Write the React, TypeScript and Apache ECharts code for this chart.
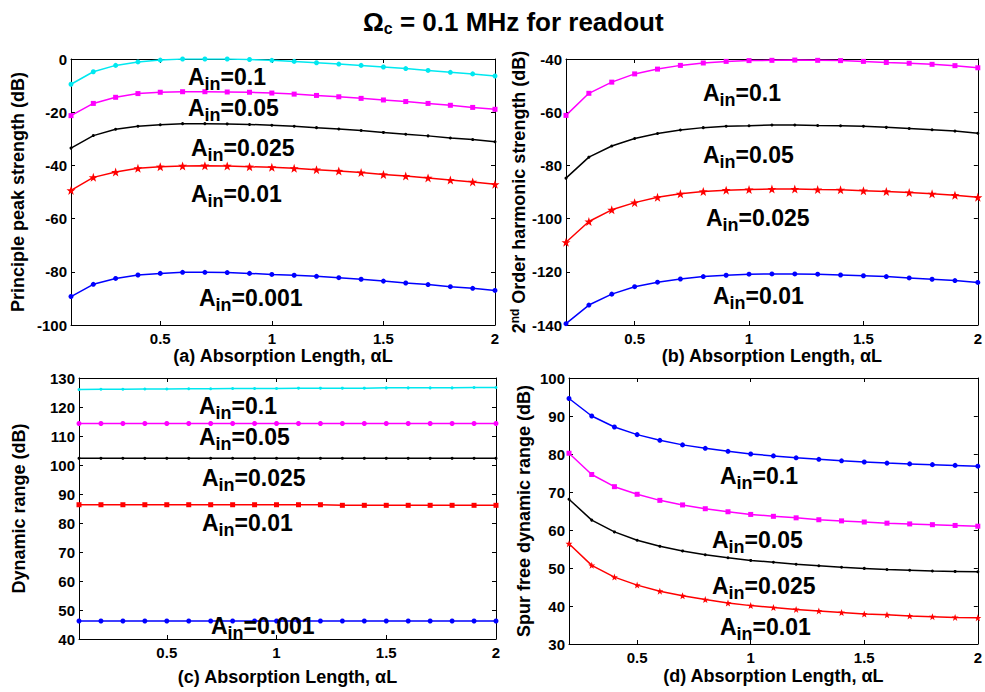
import React, { useEffect, useRef } from "react";
import * as echarts from "echarts";

// Absorption length samples
const xA = [0.1, 0.2, 0.3, 0.4, 0.5, 0.6, 0.7, 0.8, 0.9, 1.0, 1.1, 1.2, 1.3, 1.4, 1.5, 1.6, 1.7, 1.8, 1.9, 2.0];
const xB = [0.2, 0.3, 0.4, 0.5, 0.6, 0.7, 0.8, 0.9, 1.0, 1.1, 1.2, 1.3, 1.4, 1.5, 1.6, 1.7, 1.8, 1.9, 2.0];
const xTicks = [0.5, 1, 1.5, 2];

// (a) Principle peak strength (dB)
const peak01 = [-9.5, -4.8, -2.4, -1.1, -0.4, 0, 0, 0, -0.2, -0.5, -0.9, -1.4, -1.9, -2.4, -3.0, -3.6, -4.3, -5.0, -5.6, -6.4];
const peak005 = [-21.3, -16.7, -14.4, -13.0, -12.5, -12.3, -12.3, -12.4, -12.5, -12.8, -13.2, -13.7, -14.2, -14.8, -15.4, -16.0, -16.7, -17.4, -18.2, -18.9];
const peak0025 = [-33.5, -28.8, -26.4, -25.3, -24.7, -24.3, -24.3, -24.4, -24.6, -24.9, -25.3, -25.8, -26.3, -26.9, -27.6, -28.3, -28.9, -29.7, -30.3, -31.1];
const peak001 = [-49.4, -44.5, -42.5, -41.1, -40.5, -40.2, -40.1, -40.2, -40.5, -40.7, -41.1, -41.6, -42.1, -42.7, -43.4, -44.0, -44.7, -45.5, -46.2, -47.1];
const peak0001 = [-89.3, -84.7, -82.5, -81.2, -80.6, -80.2, -80.2, -80.3, -80.6, -81.0, -81.3, -81.7, -82.2, -82.8, -83.5, -84.2, -84.8, -85.6, -86.2, -87.0];

// (b) 2nd order harmonic strength (dB)
const harm01 = [-61.2, -52.9, -48.7, -45.6, -43.8, -42.4, -41.5, -40.9, -40.6, -40.5, -40.4, -40.5, -40.6, -40.9, -41.3, -41.6, -42.0, -42.5, -43.3];
const harm005 = [-84.8, -76.9, -72.7, -69.9, -68.0, -66.7, -65.8, -65.3, -65.1, -64.8, -64.8, -65.0, -65.1, -65.3, -65.7, -66.1, -66.6, -67.1, -67.9];
const harm0025 = [-108.9, -101.1, -96.7, -94.0, -92.0, -90.7, -89.8, -89.3, -89.1, -88.9, -88.9, -89.1, -89.2, -89.5, -89.8, -90.2, -90.7, -91.2, -92.0];
const harm001 = [-139.5, -132.5, -128.4, -125.6, -123.9, -122.7, -121.8, -121.3, -120.9, -120.8, -120.8, -120.9, -121.2, -121.5, -121.8, -122.3, -122.8, -123.3, -124.0];

// (c) Dynamic range (dB)
const dr01 = [126.0, 126.1, 126.1, 126.2, 126.2, 126.3, 126.3, 126.4, 126.4, 126.4, 126.5, 126.5, 126.5, 126.5, 126.6, 126.6, 126.6, 126.6, 126.7, 126.7];
const dr005 = [114.3, 114.3, 114.3, 114.3, 114.3, 114.3, 114.3, 114.3, 114.3, 114.3, 114.3, 114.3, 114.3, 114.3, 114.3, 114.3, 114.3, 114.3, 114.3, 114.3];
const dr0025 = [102.3, 102.3, 102.3, 102.3, 102.3, 102.3, 102.3, 102.3, 102.3, 102.3, 102.3, 102.3, 102.3, 102.3, 102.3, 102.3, 102.3, 102.3, 102.3, 102.3];
const dr001 = [86.3, 86.3, 86.3, 86.3, 86.3, 86.3, 86.3, 86.3, 86.3, 86.3, 86.3, 86.3, 86.1, 86.1, 86.1, 86.1, 86.1, 86.1, 86.1, 86.1];
const dr0001 = [46.2, 46.2, 46.2, 46.2, 46.2, 46.2, 46.2, 46.2, 46.2, 46.2, 46.2, 46.2, 46.2, 46.2, 46.2, 46.2, 46.2, 46.2, 46.2, 46.2];

// (d) Spur free dynamic range (dB)
const sfdr01 = [94.6, 90.0, 87.1, 85.1, 83.6, 82.4, 81.5, 80.7, 80.0, 79.5, 79.0, 78.6, 78.2, 77.9, 77.6, 77.4, 77.2, 77.0, 76.8];
const sfdr005 = [80.2, 74.6, 71.4, 69.4, 67.8, 66.6, 65.6, 64.8, 64.1, 63.6, 63.2, 62.7, 62.4, 62.1, 61.8, 61.6, 61.4, 61.2, 61.0];
const sfdr0025 = [68.1, 62.6, 59.5, 57.3, 55.7, 54.5, 53.5, 52.7, 52.0, 51.5, 51.0, 50.6, 50.2, 49.9, 49.6, 49.4, 49.2, 49.1, 49.0];
const sfdr001 = [56.4, 50.7, 47.6, 45.5, 43.9, 42.7, 41.7, 40.8, 40.1, 39.6, 39.1, 38.7, 38.3, 37.9, 37.7, 37.4, 37.2, 37.0, 36.9];

const CYAN = "#00e8f0";
const MAGENTA = "#ff00ff";
const RED = "#ff0000";
const BLUE = "#0000ff";
const BLACK = "#000000";
const STAR =
  "path://M0,-10 L2.35,-3.24 9.51,-3.09 3.8,1.24 5.88,8.09 0,4 -5.88,8.09 -3.8,1.24 -9.51,-3.09 -2.35,-3.24Z";

const FONT = "Arial, 'Liberation Sans', Helvetica, sans-serif";

const grids = [
  { left: 71, top: 59, width: 424, height: 266 },
  { left: 566, top: 59, width: 416, height: 266 },
  { left: 79, top: 378, width: 417, height: 261 },
  { left: 569, top: 378, width: 409, height: 266 },
];

const xMins = [0.1, 0.2, 0.1, 0.2];
const yRanges = [
  { min: -100, max: 0, interval: 20 },
  { min: -140, max: -40, interval: 20 },
  { min: 40, max: 130, interval: 10 },
  { min: 30, max: 100, interval: 10 },
];
const xNames = [
  "(a) Absorption Length, αL",
  "(b) Absorption Length, αL",
  "(c) Absorption Length, αL",
  "(d) Absorption Length, αL",
];
const xNameGaps = [20, 20, 29, 23];
const yNames = [
  "Principle peak strength (dB)",
  "2{sup|nd} Order harmonic strength (dB)",
  "Dynamic range (dB)",
  "Spur free dynamic range (dB)",
];
const yNameGaps = [44, 33, 51, 36];

// A_in annotations: [value text, left px, middle px]
const ainLabels: [string, number, number][] = [
  ["0.1", 188, 77],
  ["0.05", 188, 108],
  ["0.025", 191, 148],
  ["0.01", 191, 194],
  ["0.001", 199, 298],
  ["0.1", 703, 93],
  ["0.05", 703, 155],
  ["0.025", 706, 218],
  ["0.01", 713, 296],
  ["0.1", 199, 406],
  ["0.05", 199, 437],
  ["0.025", 202, 478],
  ["0.01", 202, 523],
  ["0.001", 211, 626],
  ["0.1", 720, 476],
  ["0.05", 712, 540],
  ["0.025", 712, 586],
  ["0.01", 720, 627],
];

function zip(xs: number[], ys: number[]) {
  return xs.map((x, i) => [x, ys[i]]);
}

function line(
  panel: number,
  xs: number[],
  ys: number[],
  color: string,
  symbol: string,
  symbolSize: number
) {
  return {
    type: "line",
    xAxisIndex: panel * 2,
    yAxisIndex: panel * 2,
    data: zip(xs, ys),
    symbol,
    symbolSize,
    showSymbol: true,
    lineStyle: { color, width: 1.5 },
    itemStyle: { color, borderWidth: 0 },
    z: 3,
  };
}

export default function App() {
  const ref = useRef<HTMLDivElement>(null);

  useEffect(() => {
    if (!ref.current) return;
    const chart = echarts.init(ref.current, undefined, { renderer: "svg" });

    const xAxis: any[] = [];
    const yAxis: any[] = [];
    grids.forEach((_, i) => {
      const tickStyle = { inside: true, length: 4, lineStyle: { color: BLACK, width: 1 } };
      xAxis.push({
        type: "value",
        gridIndex: i,
        position: "bottom",
        min: xMins[i],
        max: 2,
        name: xNames[i],
        nameLocation: "middle",
        nameGap: xNameGaps[i],
        nameTextStyle: { fontFamily: FONT, fontWeight: "bold", fontSize: 18, color: BLACK },
        axisLine: { show: true, onZero: false, lineStyle: { color: BLACK, width: 1 } },
        axisTick: { ...tickStyle, customValues: xTicks },
        axisLabel: {
          customValues: xTicks,
          fontFamily: FONT,
          fontWeight: "bold",
          fontSize: 15,
          color: BLACK,
          margin: 6,
        },
        splitLine: { show: false },
      });
      xAxis.push({
        type: "value",
        gridIndex: i,
        position: "top",
        min: xMins[i],
        max: 2,
        axisLine: { show: true, onZero: false, lineStyle: { color: BLACK, width: 1 } },
        axisTick: { ...tickStyle, customValues: xTicks },
        axisLabel: { show: false },
        splitLine: { show: false },
      });
      yAxis.push({
        type: "value",
        gridIndex: i,
        position: "left",
        min: yRanges[i].min,
        max: yRanges[i].max,
        interval: yRanges[i].interval,
        name: yNames[i],
        nameLocation: "middle",
        nameGap: yNameGaps[i],
        nameTextStyle: {
          fontFamily: FONT,
          fontWeight: "bold",
          fontSize: 18,
          color: BLACK,
          rich: {
            sup: { fontFamily: FONT, fontWeight: "bold", fontSize: 12, color: BLACK, padding: [0, 0, 8, 0] },
          },
        },
        axisLine: { show: true, onZero: false, lineStyle: { color: BLACK, width: 1 } },
        axisTick: tickStyle,
        axisLabel: {
          fontFamily: FONT,
          fontWeight: "bold",
          fontSize: 15,
          color: BLACK,
          margin: 4,
        },
        splitLine: { show: false },
      });
      yAxis.push({
        type: "value",
        gridIndex: i,
        position: "right",
        min: yRanges[i].min,
        max: yRanges[i].max,
        interval: yRanges[i].interval,
        axisLine: { show: true, onZero: false, lineStyle: { color: BLACK, width: 1 } },
        axisTick: tickStyle,
        axisLabel: { show: false },
        splitLine: { show: false },
      });
    });

    const series: any[] = [
      line(0, xA, peak01, CYAN, "circle", 5),
      line(0, xA, peak005, MAGENTA, "rect", 5),
      line(0, xA, peak0025, BLACK, "circle", 3),
      line(0, xA, peak001, RED, STAR, 9),
      line(0, xA, peak0001, BLUE, "circle", 5),

      line(1, xB, harm01, MAGENTA, "rect", 5),
      line(1, xB, harm005, BLACK, "circle", 3),
      line(1, xB, harm0025, RED, STAR, 9),
      line(1, xB, harm001, BLUE, "circle", 5),

      line(2, xA, dr01, CYAN, "circle", 3),
      line(2, xA, dr005, MAGENTA, "circle", 5),
      line(2, xA, dr0025, BLACK, "circle", 3),
      line(2, xA, dr001, RED, "rect", 5),
      line(2, xA, dr0001, BLUE, "circle", 5),

      line(3, xB, sfdr01, BLUE, "circle", 5),
      line(3, xB, sfdr005, MAGENTA, "rect", 5),
      line(3, xB, sfdr0025, BLACK, "circle", 3),
      line(3, xB, sfdr001, RED, STAR, 7),
    ];

    const graphic: any[] = ainLabels.map(([v, x, y]) => ({
      type: "text",
      x,
      y,
      z: 10,
      style: {
        text: `{a|A}{s|in}{a|=${v}}`,
        align: "left",
        verticalAlign: "middle",
        rich: {
          a: { fontFamily: FONT, fontWeight: "bold", fontSize: 23, fill: BLACK, lineHeight: 26 },
          s: { fontFamily: FONT, fontWeight: "bold", fontSize: 18, fill: BLACK, padding: [14, 0, 0, 0] },
        },
      },
    }));

    chart.setOption({
      animation: false,
      backgroundColor: "#ffffff",
      title: {
        text: "Ω{sub|c} = 0.1 MHz for readout",
        left: 358,
        top: 2,
        textStyle: {
          fontFamily: FONT,
          fontWeight: "bold",
          fontSize: 26,
          color: BLACK,
          rich: {
            sub: {
              fontFamily: FONT,
              fontWeight: "bold",
              fontSize: 16,
              color: BLACK,
              padding: [13, 0, 0, 0],
            },
          },
        },
      },
      grid: grids.map((g) => ({ ...g, containLabel: false })),
      xAxis,
      yAxis,
      series,
      graphic,
    });

    return () => chart.dispose();
  }, []);

  return (
    <div
      ref={ref}
      style={{ position: "absolute", left: 0, top: 0, width: 985, height: 692, background: "#fff" }}
    />
  );
}
